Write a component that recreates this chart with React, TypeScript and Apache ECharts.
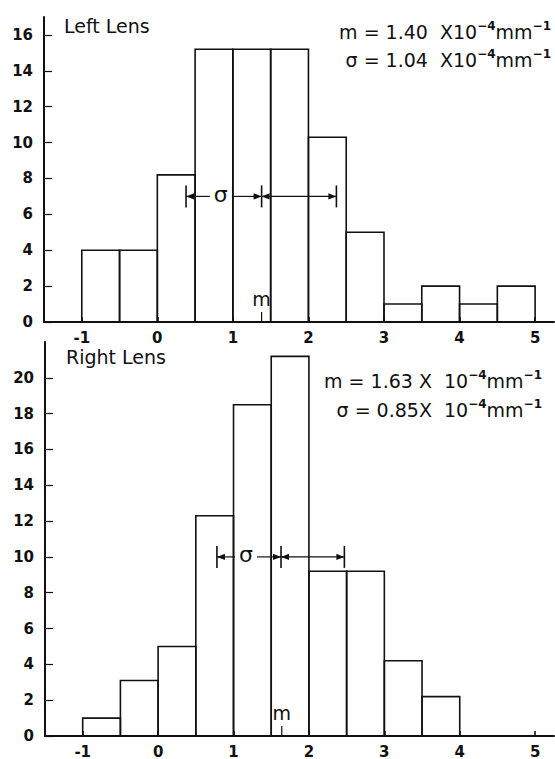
import React, { useEffect, useRef } from "react";
import * as echarts from "echarts";

// ---- data ----
const binWidth = 0.5;
const leftBinStarts = [-1, -0.5, 0, 0.5, 1, 1.5, 2, 2.5, 3, 3.5, 4, 4.5];
const leftCounts = [4, 4, 8.2, 15.2, 15.2, 15.2, 10.3, 5, 1, 2, 1, 2];
const rightBinStarts = [-1, -0.5, 0, 0.5, 1, 1.5, 2, 2.5, 3, 3.5];
const rightCounts = [1, 3.1, 5, 12.3, 18.5, 21.2, 9.2, 9.2, 4.2, 2.2];

const xTickValues = [-1, 0, 1, 2, 3, 4, 5];
const leftYTickValues = [0, 2, 4, 6, 8, 10, 12, 14, 16];
const rightYTickValues = [0, 2, 4, 6, 8, 10, 12, 14, 16, 18, 20];

// sigma bracket: [low end, mean, high end, height]
const leftSigma = [0.38, 1.38, 2.37, 7];
const rightSigma = [0.78, 1.63, 2.47, 10];
const leftMean = [1.38];
const rightMean = [1.64];

const leftStats = { m: "1.40", s: "1.04" };
const rightStats = { m: "1.63", s: "0.85" };

const INK = "#111";
const FONT = "DejaVu Sans";

function histSeries(starts: number[], counts: number[], idx: number) {
  return {
    type: "custom",
    xAxisIndex: idx,
    yAxisIndex: idx,
    data: starts.map((s, i) => [s, s + binWidth, counts[i]]),
    encode: { x: [0, 1], y: 2 },
    renderItem: (params: any, api: any) => {
      const p0 = api.coord([api.value(0), api.value(2)]);
      const p1 = api.coord([api.value(1), 0]);
      return {
        type: "rect",
        shape: { x: p0[0], y: p0[1], width: p1[0] - p0[0], height: p1[1] - p0[1] },
        style: { fill: "none", stroke: INK, lineWidth: 1.6 },
      };
    },
  };
}

function sigmaSeries(sig: number[], idx: number) {
  return {
    type: "custom",
    xAxisIndex: idx,
    yAxisIndex: idx,
    data: [sig],
    encode: { x: [0, 1, 2], y: 3 },
    renderItem: (params: any, api: any) => {
      const yv = api.value(3);
      const lo = api.coord([api.value(0), yv]);
      const mid = api.coord([api.value(1), yv]);
      const hi = api.coord([api.value(2), yv]);
      const y = lo[1];
      const h = 11;
      const ah = 8;
      const aw = 3.2;
      const sx = (lo[0] + mid[0]) / 2 - 3;
      const gap = 11;
      const ls = { stroke: INK, lineWidth: 1.2 };
      const fill = { fill: INK };
      return {
        type: "group",
        children: [
          { type: "line", shape: { x1: lo[0], y1: y - h, x2: lo[0], y2: y + h }, style: { stroke: INK, lineWidth: 1.6 } },
          { type: "line", shape: { x1: mid[0], y1: y - h, x2: mid[0], y2: y + h }, style: { stroke: INK, lineWidth: 1.6 } },
          { type: "line", shape: { x1: hi[0], y1: y - h, x2: hi[0], y2: y + h }, style: { stroke: INK, lineWidth: 1.6 } },
          { type: "line", shape: { x1: lo[0], y1: y, x2: sx - gap, y2: y }, style: ls },
          { type: "line", shape: { x1: sx + gap, y1: y, x2: mid[0], y2: y }, style: ls },
          { type: "line", shape: { x1: mid[0], y1: y, x2: hi[0], y2: y }, style: ls },
          { type: "polygon", shape: { points: [[lo[0], y], [lo[0] + ah, y - aw], [lo[0] + ah, y + aw]] }, style: fill },
          { type: "polygon", shape: { points: [[mid[0], y], [mid[0] - ah, y - aw], [mid[0] - ah, y + aw]] }, style: fill },
          { type: "polygon", shape: { points: [[mid[0], y], [mid[0] + ah, y - aw], [mid[0] + ah, y + aw]] }, style: fill },
          { type: "polygon", shape: { points: [[hi[0], y], [hi[0] - ah, y - aw], [hi[0] - ah, y + aw]] }, style: fill },
          {
            type: "text",
            style: { text: "σ", x: sx, y: y - 2, align: "center", verticalAlign: "middle", fontSize: 22, fontFamily: FONT, fill: INK },
          },
        ],
      };
    },
  };
}

function meanSeries(mean: number[], idx: number) {
  return {
    type: "custom",
    xAxisIndex: idx,
    yAxisIndex: idx,
    data: [[mean[0], 0]],
    encode: { x: 0, y: 1 },
    renderItem: (params: any, api: any) => {
      const p = api.coord([api.value(0), 0]);
      return {
        type: "group",
        children: [
          { type: "line", shape: { x1: p[0], y1: p[1], x2: p[0], y2: p[1] - 10 }, style: { stroke: INK, lineWidth: 1.2 } },
          {
            type: "text",
            style: { text: "m", x: p[0], y: p[1] - 23, align: "center", verticalAlign: "middle", fontSize: 19, fontFamily: FONT, fill: INK },
          },
        ],
      };
    },
  };
}

function xAxis(gridIndex: number) {
  return {
    type: "value",
    gridIndex,
    min: -1.5,
    max: 5.25,
    axisLine: { show: true, onZero: false, lineStyle: { color: INK, width: 2 } },
    axisTick: { show: true, inside: true, length: 5, customValues: xTickValues, lineStyle: { color: INK, width: 1.6 } },
    axisLabel: {
      customValues: xTickValues,
      margin: 8,
      color: INK,
      fontFamily: FONT,
      fontWeight: "bold",
      fontSize: 15,
    },
    splitLine: { show: false },
  };
}

function yAxis(gridIndex: number, max: number, ticks: number[]) {
  return {
    type: "value",
    gridIndex,
    min: 0,
    max,
    axisLine: { show: true, onZero: false, lineStyle: { color: INK, width: 2 } },
    axisTick: { show: true, inside: true, length: 8, customValues: ticks, lineStyle: { color: INK, width: 1.2 } },
    axisLabel: {
      customValues: ticks,
      margin: 11,
      color: INK,
      fontFamily: FONT,
      fontWeight: "bold",
      fontSize: 15,
    },
    splitLine: { show: false },
  };
}

const rich = {
  n: { fontSize: 19, fontFamily: FONT, fill: INK, lineHeight: 24 },
  sup: { fontSize: 12, fontFamily: FONT, fontWeight: "bold", fill: INK, verticalAlign: "top", lineHeight: 24 },
};

function statText(text: string, x: number, y: number) {
  return {
    type: "text",
    style: {
      x,
      y,
      text,
      align: "right",
      verticalAlign: "middle",
      rich,
      fill: INK,
    },
  };
}

export default function App() {
  const ref = useRef<HTMLDivElement>(null);
  useEffect(() => {
    if (!ref.current) return;
    const chart = echarts.init(ref.current, undefined, { renderer: "svg" });
    chart.setOption({
      animation: false,
      backgroundColor: "#fff",
      grid: [
        { left: 44, top: 17, width: 510, height: 305 },
        { left: 45, top: 342, width: 509, height: 400 },
      ],
      xAxis: [xAxis(0), xAxis(1)],
      yAxis: [yAxis(0, 17, leftYTickValues), yAxis(1, 22, rightYTickValues)],
      series: [
        histSeries(leftBinStarts, leftCounts, 0),
        histSeries(rightBinStarts, rightCounts, 1),
        sigmaSeries(leftSigma, 0),
        sigmaSeries(rightSigma, 1),
        meanSeries(leftMean, 0),
        meanSeries(rightMean, 1),
      ],
      graphic: [
        { type: "text", style: { x: 64, y: 26, text: "Left Lens", fontSize: 19, fontFamily: FONT, fill: INK, verticalAlign: "middle" } },
        { type: "text", style: { x: 66, y: 357, text: "Right Lens", fontSize: 19, fontFamily: FONT, fill: INK, verticalAlign: "middle" } },
        statText(`{n|m = ${leftStats.m}  X10}{sup|−4}{n|mm}{sup|−1}`, 551, 32),
        statText(`{n|σ = ${leftStats.s}  X10}{sup|−4}{n|mm}{sup|−1}`, 551, 60),
        statText(`{n|m = ${rightStats.m} X  10}{sup|−4}{n|mm}{sup|−1}`, 542, 381),
        statText(`{n|σ = ${rightStats.s}X  10}{sup|−4}{n|mm}{sup|−1}`, 542, 410),
      ],
    });
    return () => chart.dispose();
  }, []);
  return <div ref={ref} style={{ width: 555, height: 759, position: "absolute", left: 0, top: 0 }} />;
}
